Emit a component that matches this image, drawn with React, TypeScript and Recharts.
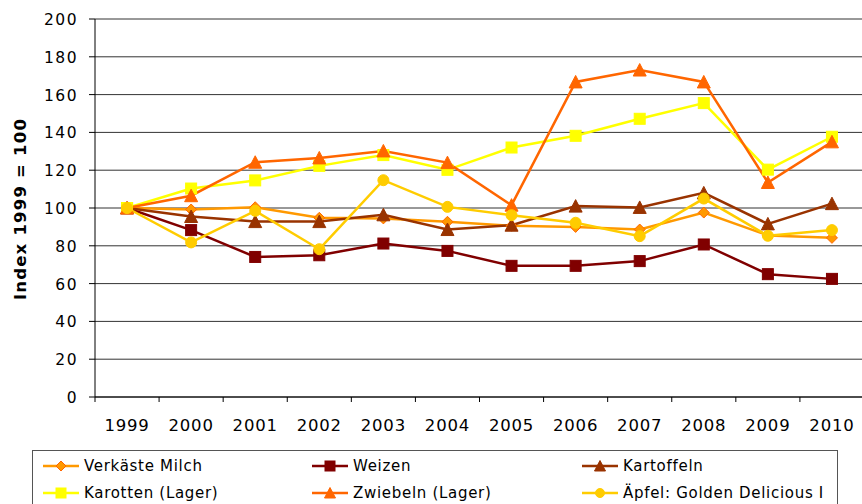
import React from 'react';
import { LineChart, Line, XAxis, YAxis, CartesianGrid } from 'recharts';

const years = ['1999', '2000', '2001', '2002', '2003', '2004', '2005', '2006', '2007', '2008', '2009', '2010'];
const verkasteMilch = [100, 99.2, 100.4, 94.8, 94.5, 92.7, 90.6, 90, 88.6, 97.6, 85.5, 84.2];
const weizen = [100, 88.3, 74.1, 75, 81.2, 77.3, 69.4, 69.4, 71.9, 80.7, 65, 62.5];
const kartoffeln = [100, 95.5, 92.8, 92.8, 96.4, 88.6, 90.9, 101, 100.3, 108, 91.6, 102.3];
const karotten = [100, 110.3, 114.6, 122.3, 128, 120.2, 132, 138.2, 147.2, 155.5, 120.3, 137.7];
const zwiebeln = [100, 106.5, 124.2, 126.5, 130.2, 124, 101.5, 166.7, 173, 166.7, 113.5, 135];
const aepfel = [100, 81.8, 98.5, 78.2, 114.7, 100.6, 96.2, 92.2, 85.1, 105, 85.3, 88.3];
const yTicks = [0, 20, 40, 60, 80, 100, 120, 140, 160, 180, 200];
const yTitle = 'Index 1999 = 100';

type Marker = 'diamond' | 'square' | 'triangle' | 'circle';
const seriesList: { key: string; name: string; values: number[]; color: string; fill: string; edge: string; marker: Marker }[] = [
  { key: 'milch', name: 'Verkäste Milch', values: verkasteMilch, color: '#FF9900', fill: '#FF9900', edge: '#FF6600', marker: 'diamond' },
  { key: 'weizen', name: 'Weizen', values: weizen, color: '#800000', fill: '#800000', edge: '#800000', marker: 'square' },
  { key: 'kartoffeln', name: 'Kartoffeln', values: kartoffeln, color: '#993300', fill: '#993300', edge: '#993300', marker: 'triangle' },
  { key: 'karotten', name: 'Karotten (Lager)', values: karotten, color: '#FFFF00', fill: '#FFFF00', edge: '#FFFF00', marker: 'square' },
  { key: 'zwiebeln', name: 'Zwiebeln (Lager)', values: zwiebeln, color: '#FF6600', fill: '#FF6600', edge: '#FF6600', marker: 'triangle' },
  { key: 'aepfel', name: 'Äpfel: Golden Delicious I', values: aepfel, color: '#FFCC00', fill: '#FFCC00', edge: '#FFCC00', marker: 'circle' },
];

const data = years.map((y, i) => {
  const row: Record<string, number | string> = { idx: i, year: y };
  seriesList.forEach((s) => { row[s.key] = s.values[i]; });
  return row;
});

const xTicks = years.flatMap((_, i) => [i - 0.5, i]).concat([years.length - 0.5]);

const FONT = '"DejaVu Sans", Verdana, sans-serif';

function markerShape(m: Marker, cx: number, cy: number, fill: string, edge: string, size: number, key?: string) {
  const h = size / 2;
  if (m === 'diamond') {
    return <polygon key={key} points={`${cx},${cy - h} ${cx + h},${cy} ${cx},${cy + h} ${cx - h},${cy}`} fill={fill} stroke={edge} strokeWidth={1} />;
  }
  if (m === 'square') {
    return <rect key={key} x={cx - h} y={cy - h} width={size} height={size} fill={fill} stroke={edge} strokeWidth={1} />;
  }
  if (m === 'triangle') {
    return <polygon key={key} points={`${cx},${cy - h - 0.5} ${cx + h + 0.5},${cy + h} ${cx - h - 0.5},${cy + h}`} fill={fill} stroke={edge} strokeWidth={1} />;
  }
  return <circle key={key} cx={cx} cy={cy} r={h} fill={fill} stroke={edge} strokeWidth={1} />;
}

const XTick = (props: any) => {
  const { x, y, payload } = props;
  const v = payload.value as number;
  if (Math.abs(v - Math.round(v)) > 0.25) {
    return <line x1={x} y1={y} x2={x} y2={y + 5} stroke="#000" strokeWidth={1} />;
  }
  return (
    <text x={x} y={y + 34} textAnchor="middle" fontFamily={FONT} fontSize={16.5} letterSpacing={0.8} fill="#000">
      {years[Math.round(v)]}
    </text>
  );
};

const YTick = (props: any) => {
  const { x, y, payload } = props;
  return (
    <text x={x} y={y + 6} textAnchor="end" fontFamily={FONT} fontSize={15.5} letterSpacing={1.5} fill="#000">
      {payload.value}
    </text>
  );
};

const YTitle = () => (
  <text x={26} y={209} transform="rotate(-90 26 209)" textAnchor="middle" fontFamily={FONT} fontSize={16.5} fontWeight="bold" letterSpacing={1.2} fill="#000">
    {yTitle}
  </text>
);

const legendCols = [43, 312, 582];
const legendRows = [465.5, 492.5];

export default function App() {
  return (
    <div style={{ position: 'absolute', left: 0, top: 0, width: 862, height: 504, overflow: 'hidden', background: '#fff' }}>
      <LineChart width={900} height={440} data={data} margin={{ top: 19, right: 36, left: 0, bottom: 0 }}>
        <CartesianGrid horizontal vertical={false} stroke="#333" strokeWidth={1} />
        <XAxis
          dataKey="idx"
          type="number"
          domain={[-0.5, years.length - 0.5]}
          ticks={xTicks}
          interval={0}
          height={43}
          tickLine={false}
          tickSize={0}
          tickMargin={0}
          axisLine={{ stroke: '#000', strokeWidth: 1 }}
          tick={XTick}
          allowDecimals
        />
        <YAxis
          type="number"
          domain={[0, 200]}
          ticks={yTicks}
          interval={0}
          width={95}
          tickSize={6}
          tickMargin={11}
          tickLine={{ stroke: '#000' }}
          axisLine={{ stroke: '#000', strokeWidth: 1 }}
          tick={YTick}
          label={YTitle}
        />
        {seriesList.map((s) => (
          <Line
            key={s.key}
            dataKey={s.key}
            name={s.name}
            type="linear"
            stroke={s.color}
            strokeWidth={2.5}
            isAnimationActive={false}
            dot={(p: any) => markerShape(s.marker, p.cx, p.cy, s.fill, s.edge, s.marker === 'triangle' ? 12 : 11, `${s.key}-${p.index}`)}
            activeDot={false}
          />
        ))}
      </LineChart>
      <div style={{ position: 'absolute', left: 32, top: 450, width: 806, height: 80, border: '1px solid #555', boxSizing: 'border-box' }} />
      {seriesList.map((s, i) => {
        const col = legendCols[i % 3];
        const row = legendRows[Math.floor(i / 3)];
        return (
          <React.Fragment key={s.key}>
            <svg style={{ position: 'absolute', left: col, top: row - 7 }} width={38} height={14}>
              <line x1={0} y1={7} x2={36} y2={7} stroke={s.color} strokeWidth={2.5} />
              {markerShape(s.marker, 18, 7, s.fill, s.edge, s.marker === 'circle' ? 9 : 10)}
            </svg>
            <div style={{ position: 'absolute', left: col + 41, top: row - 9, fontFamily: FONT, fontSize: 15, lineHeight: '18px', letterSpacing: 0.7, color: '#000', whiteSpace: 'nowrap' }}>
              {s.name}
            </div>
          </React.Fragment>
        );
      })}
    </div>
  );
}
